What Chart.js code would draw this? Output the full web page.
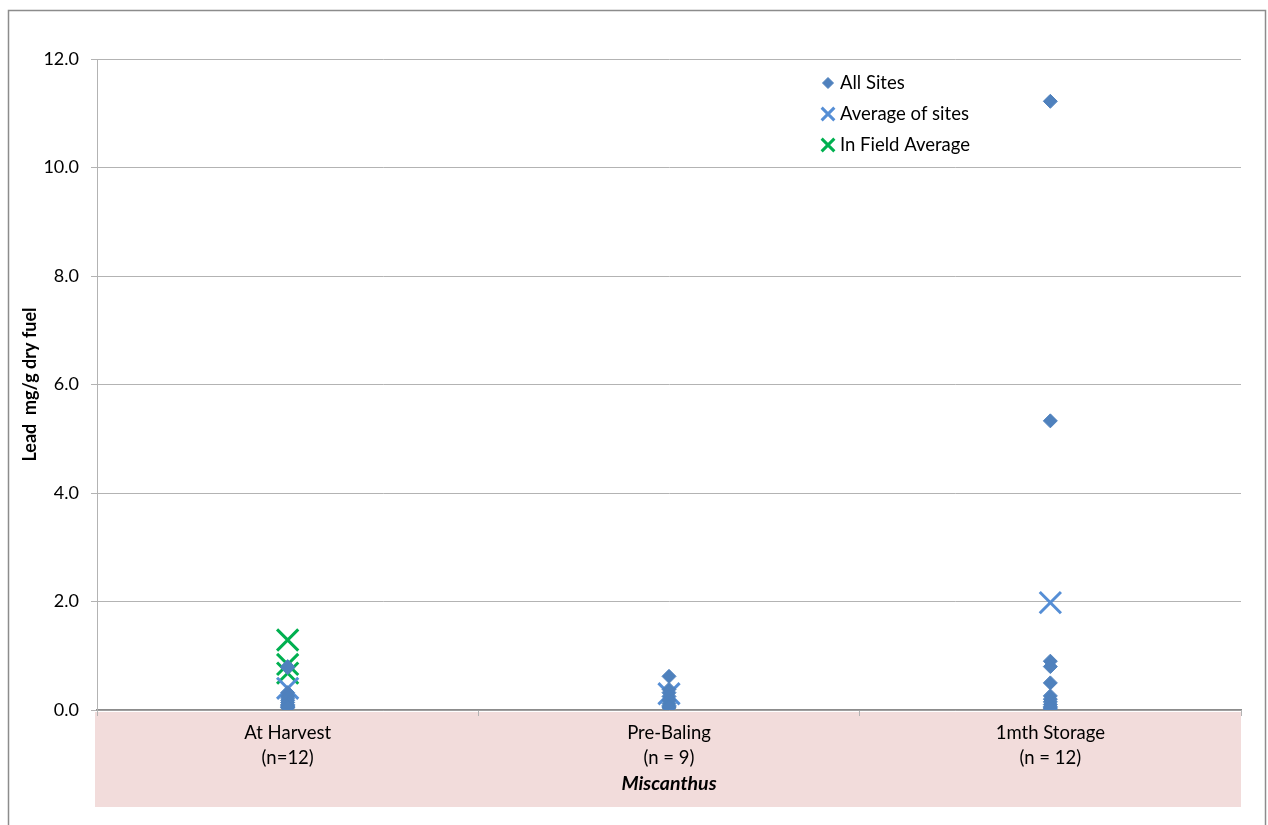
<!DOCTYPE html>
<html>
<head>
    <meta charset="UTF-8">
    <title>Lead - Miscanthus</title>
    <script src="https://cdn.jsdelivr.net/npm/chart.js@4/dist/chart.umd.min.js"></script>
    <style>
        body { margin: 0; background: #fff; }
        #wrap { width: 1268px; height: 825px; }
    </style>
</head>
<body>
<div id="wrap"><canvas id="myChart" width="1268" height="825"></canvas></div>
<script>
    // stages along the x axis
    var categories = ['At Harvest', 'Pre-Baling', '1mth Storage'];
    var sampleCounts = ['(n=12)', '(n = 9)', '(n = 12)'];
    var axisTitle = 'Miscanthus';

    // lead, mg/g dry fuel, one value per site
    var allSitesHarvest = [0.80, 0.78, 0.32, 0.26, 0.22, 0.18, 0.14, 0.10, 0.08, 0.06, 0.05, 0.04];
    var allSitesPreBaling = [0.62, 0.38, 0.32, 0.25, 0.18, 0.12, 0.08, 0.06, 0.04];
    var allSitesStorage = [11.22, 5.33, 0.90, 0.80, 0.50, 0.26, 0.20, 0.15, 0.10, 0.06, 0.04, 0.02];

    var siteAverages = [0.40, 0.30, 1.98];       // one per stage
    var inFieldAverages = [1.29, 0.84, 0.68];    // at harvest only

    function points(stage, values) {
        return values.map(v => ({ x: stage, y: v }));
    }

    var allSites = [].concat(
        points(1, allSitesHarvest),
        points(2, allSitesPreBaling),
        points(3, allSitesStorage)
    );

    const FONT = 'Lato, "Open Sans", sans-serif';

    // grey frame, pink band behind the category labels
    const background = {
        id: 'background',
        beforeDraw(chart) {
            const ctx = chart.ctx, a = chart.chartArea;
            ctx.save();
            ctx.fillStyle = '#f2dcdb';
            ctx.fillRect(a.left - 2, a.bottom + 2, a.right - a.left + 2, 95);
            ctx.strokeStyle = '#8c8c8c';
            ctx.lineWidth = 1.5;
            ctx.strokeRect(8.5, 10.5, 1257, 830);
            ctx.restore();
        }
    };

    // legend in the upper right of the plot, like the original
    const innerLegend = {
        id: 'innerLegend',
        afterDraw(chart) {
            const ctx = chart.ctx, a = chart.chartArea;
            const x = a.left + 731, y0 = a.top + 24;
            const sizes = [5.5, 9, 9];
            ctx.save();
            chart.data.datasets.forEach((ds, i) => {
                const y = y0 + i * 31;
                ctx.strokeStyle = ds.borderColor;
                ctx.fillStyle = ds.backgroundColor;
                ctx.lineWidth = ds.borderWidth;
                Chart.helpers.drawPoint(ctx, {
                    pointStyle: ds.pointStyle,
                    radius: sizes[i],
                    borderWidth: ds.borderWidth
                }, x, y);
                ctx.fillStyle = '#000';
                ctx.font = '18.5px ' + FONT;
                ctx.textBaseline = 'middle';
                ctx.fillText(ds.label, x + 12, y);
            });
            ctx.restore();
        }
    };

    const data = {
        datasets: [{
            label: 'All Sites',
            data: allSites,
            pointStyle: 'rectRot',
            pointRadius: 7,
            backgroundColor: '#4f81bd',
            borderColor: '#4f81bd',
            borderWidth: 1
        }, {
            label: 'Average of sites',
            data: siteAverages.map((v, i) => ({ x: i + 1, y: v })),
            pointStyle: 'crossRot',
            pointRadius: 15,
            backgroundColor: '#558ed5',
            borderColor: '#558ed5',
            borderWidth: 3
        }, {
            label: 'In Field Average',
            data: points(1, inFieldAverages),
            pointStyle: 'crossRot',
            pointRadius: 15,
            backgroundColor: '#00b050',
            borderColor: '#00b050',
            borderWidth: 3
        }]
    };

    const config = {
        type: 'scatter',
        data,
        options: {
            responsive: false,
            animation: false,
            layout: { padding: { top: 59, right: 27, left: 0, bottom: 0 } },
            plugins: {
                legend: { display: false },
                tooltip: { enabled: false }
            },
            scales: {
                x: {
                    type: 'linear',
                    min: 0.5,
                    max: 3.5,
                    afterBuildTicks: s => {
                        s.ticks = [0.5, 1, 1.5, 2, 2.5, 3, 3.5].map(v => ({ value: v }));
                    },
                    afterFit: s => { s.height = 115; },
                    ticks: {
                        autoSkip: false,
                        maxRotation: 0,
                        padding: 4,
                        color: '#000',
                        font: { family: FONT, size: 18.5, lineHeight: 1.36 },
                        callback: v => Number.isInteger(v) ? [categories[v - 1], sampleCounts[v - 1]] : ''
                    },
                    grid: {
                        drawOnChartArea: false,
                        tickLength: 6,
                        color: ctx => (ctx.tick && Number.isInteger(ctx.tick.value)) ? 'rgba(0,0,0,0)' : '#b3b3b3'
                    },
                    border: { color: '#8c8c8c', width: 1.5 },
                    title: {
                        display: true,
                        text: axisTitle,
                        color: '#000',
                        font: { family: FONT, size: 19.5, weight: 'bold', style: 'italic' },
                        padding: { top: 0, bottom: 30 }
                    }
                },
                y: {
                    min: 0,
                    max: 12,
                    afterFit: s => { s.width = 97; },
                    ticks: {
                        stepSize: 2,
                        padding: 12,
                        color: '#000',
                        font: { family: FONT, size: 18 },
                        callback: v => v.toFixed(1)
                    },
                    grid: { color: '#b3b3b3', tickLength: 6 },
                    border: { color: '#b3b3b3' },
                    title: {
                        display: true,
                        text: 'Lead  mg/g dry fuel',
                        color: '#000',
                        font: { family: FONT, size: 18, weight: 'bold' },
                        padding: { top: 19, bottom: 0 }
                    }
                }
            }
        },
        plugins: [background, innerLegend]
    };

    var myChart = new Chart(document.getElementById('myChart'), config);
</script>
</body>
</html>
